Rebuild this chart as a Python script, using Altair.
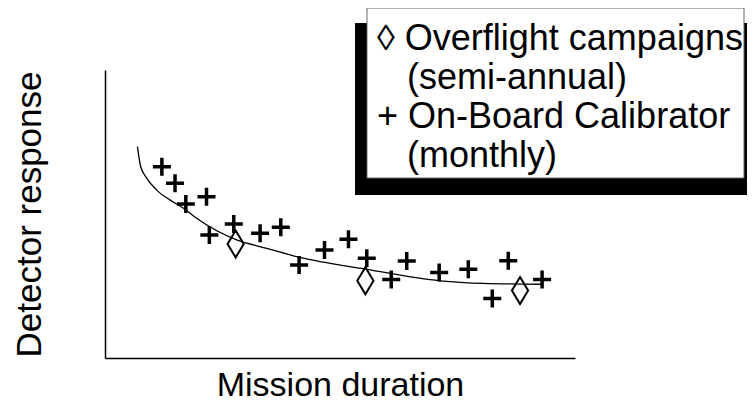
import altair as alt
import pandas as pd

# Monthly on-board calibrator readings (arbitrary units)
obc_t = [12.1, 14.9, 17.2, 21.6, 22.2, 27.4, 33.0, 37.4, 41.3, 46.7,
         51.8, 55.7, 60.9, 64.2, 71.1, 77.3, 82.4, 85.8, 93.0]
obc_r = [66.4, 60.7, 53.5, 56.0, 42.7, 46.5, 43.3, 45.4, 32.3, 37.5,
         41.2, 34.6, 27.3, 33.7, 29.7, 30.8, 20.7, 33.8, 27.3]

# Semi-annual overflight campaigns
ovf_t = [27.8, 55.4, 88.3]
ovf_r = [39.6, 26.8, 23.4]

# Fitted trend curve
fit_t = [6.9, 7.6, 8.9, 11.0, 13.8, 16.7, 19.5, 28.0, 34.4, 41.5, 55.7, 71.3, 80.5, 92.9]
fit_r = [73.4, 66.4, 62.4, 58.3, 54.9, 52.0, 48.5, 41.0, 38.1, 34.9, 30.8, 26.8, 25.9, 25.6]

legend_lines = ["\u25ca Overflight campaigns", "(semi-annual)",
                "+ On-Board Calibrator", "(monthly)"]

FONT = "Liberation Sans"

obc = pd.DataFrame({"t": obc_t, "r": obc_r})
ovf = pd.DataFrame({"t": ovf_t, "r": ovf_r})
fit = pd.DataFrame({"t": fit_t, "r": fit_r})

xs = alt.Scale(domain=[0, 100], nice=False, zero=False)
ys = alt.Scale(domain=[0, 100], nice=False, zero=False)

x_enc = alt.X("t:Q", scale=xs, title="Mission duration",
              axis=alt.Axis(labels=False, ticks=False, grid=False,
                            domainColor="black", domainWidth=1.5,
                            titleFont=FONT, titleFontSize=34,
                            titleFontWeight="normal", titleColor="black",
                            titlePadding=10))
y_enc = alt.Y("r:Q", scale=ys, title="Detector response",
              axis=alt.Axis(labels=False, ticks=False, grid=False,
                            domainColor="black", domainWidth=1.5,
                            titleFont=FONT, titleFontSize=35,
                            titleFontWeight="normal", titleColor="black",
                            titlePadding=58))

curve = alt.Chart(fit).mark_line(color="black", strokeWidth=1.3,
                                 interpolate="monotone").encode(x=x_enc, y=y_enc)

plus = alt.Chart(obc).mark_point(shape="M-1,0L1,0M0,-1L0,1", filled=False,
                                 stroke="black", strokeWidth=3.5, size=324,
                                 opacity=1).encode(x="t:Q", y="r:Q")

diam = alt.Chart(ovf).mark_point(shape="M0,-1L0.6,0L0,1L-0.6,0Z", filled=False,
                                 stroke="black", strokeWidth=2, size=729,
                                 opacity=1).encode(x="t:Q", y="r:Q")

one = alt.Data(values=[{}])
shadow = alt.Chart(one).mark_rect(color="black").encode(
    x=alt.value(250), x2=alt.value(642), y=alt.value(-47), y2=alt.value(125))
box = alt.Chart(one).mark_rect(fill="white", stroke="#666", strokeWidth=1).encode(
    x=alt.value(262), x2=alt.value(639), y=alt.value(-62), y2=alt.value(108))

texts = []
xpos = [272, 302, 272, 302]
for i, line in enumerate(legend_lines):
    texts.append(alt.Chart(one).mark_text(
        font=FONT, fontSize=36, align="left", baseline="alphabetic",
        color="black").encode(x=alt.value(xpos[i]), y=alt.value(-20 + 39 * i),
                              text=alt.value(line)))

chart = alt.layer(curve, plus, diam, shadow, box, *texts).properties(
    width=470, height=288,
    padding={"left": 97, "top": 62, "right": 172, "bottom": 44},
    autosize=alt.AutoSizeParams(type="none"),
).configure_view(strokeWidth=0)

chart.save("out.html", embed_options={"renderer": "svg", "actions": False})
